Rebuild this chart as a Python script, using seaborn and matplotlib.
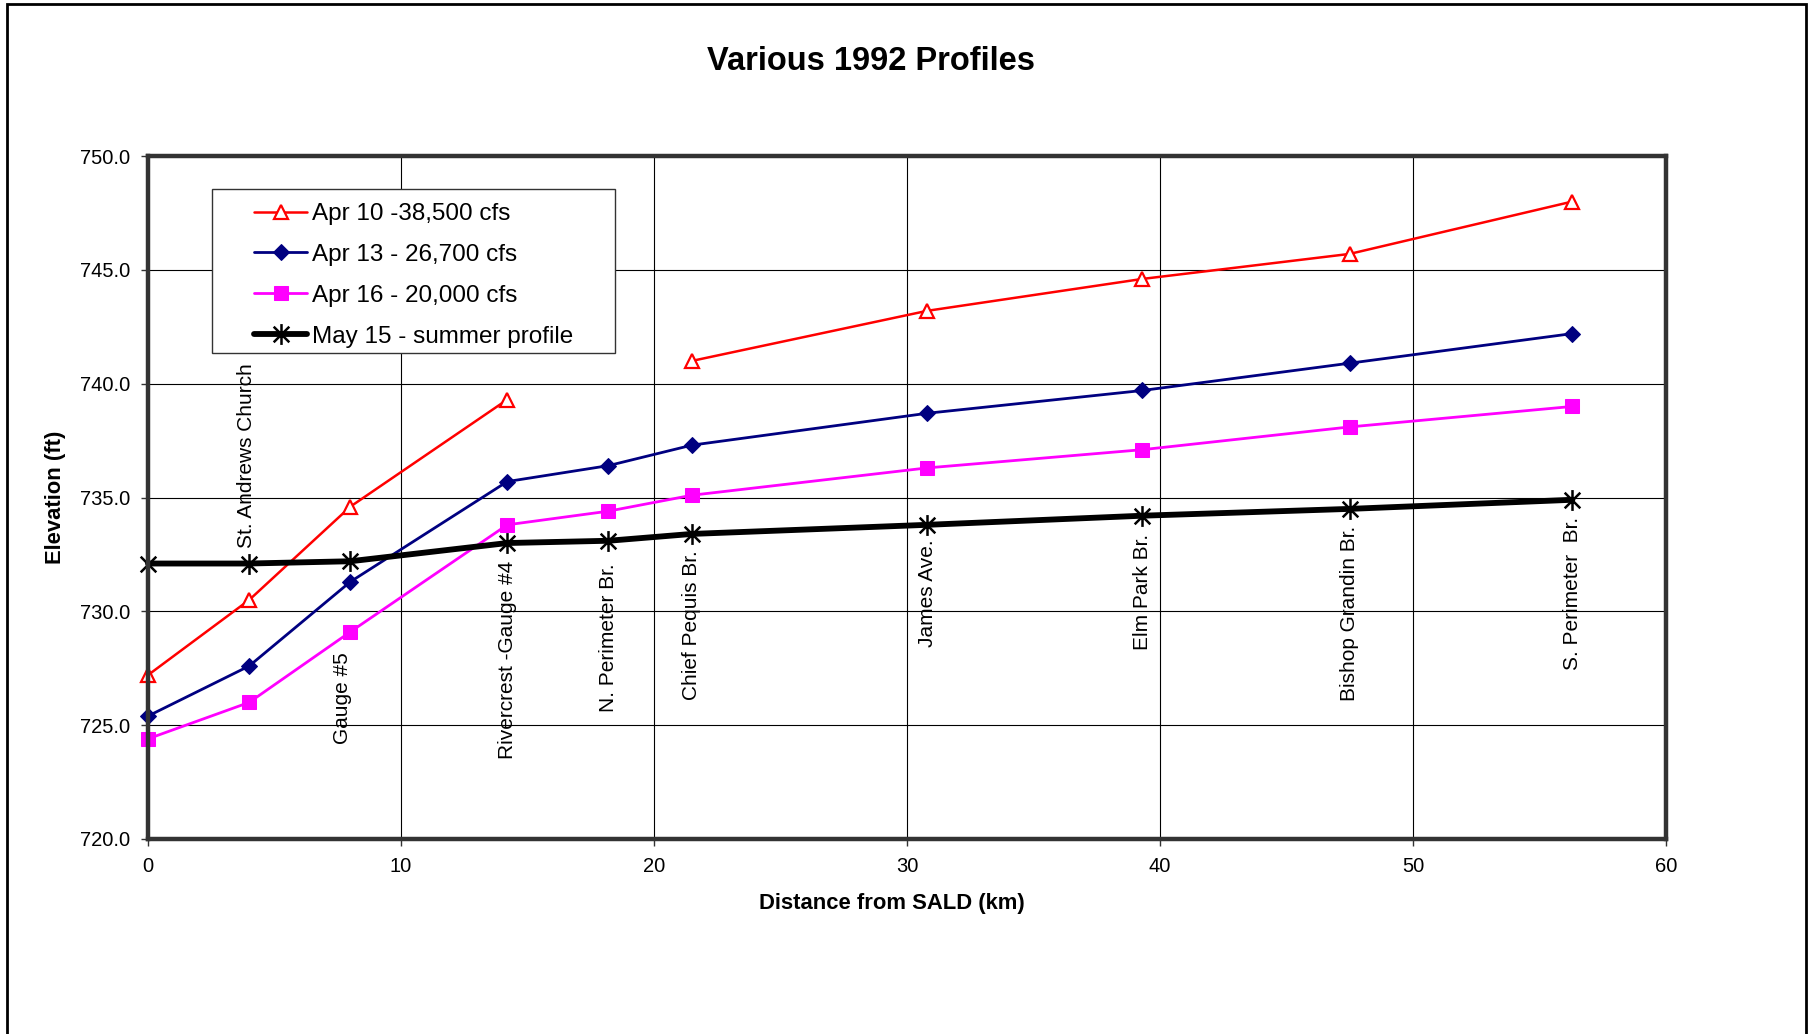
import numpy as np
import pandas as pd
import matplotlib
matplotlib.use("Agg")
import matplotlib.pyplot as plt
from matplotlib.path import Path
from matplotlib.patches import Rectangle
import seaborn as sns

# --------------------------------------------------
# data
# --------------------------------------------------
distance_km = [0.0, 4.0, 8.0, 14.2, 18.2, 21.5, 30.8, 39.3, 47.5, 56.3]

apr10 = [727.2, 730.5, 734.6, 739.3, np.nan, 741.0, 743.2, 744.6, 745.7, 748.0]
apr13 = [725.4, 727.6, 731.3, 735.7, 736.4, 737.3, 738.7, 739.7, 740.9, 742.2]
apr16 = [724.4, 726.0, 729.1, 733.8, 734.4, 735.1, 736.3, 737.1, 738.1, 739.0]
may15 = [732.1, 732.1, 732.2, 733.0, 733.1, 733.4, 733.8, 734.2, 734.5, 734.9]

series_names = ["Apr 10 -38,500 cfs", "Apr 13 - 26,700 cfs",
                "Apr 16 - 20,000 cfs", "May 15 - summer profile"]

station_names = ["St. Andrews Church", "Gauge #5", "Rivercrest -Gauge #4",
                 "N. Perimeter Br.", "Chief Pequis Br.", "James Ave.",
                 "Elm Park Br.", "Bishop Grandin Br.", "S. Perimeter  Br."]

# where the rotated station labels end (top of text), in ft
label_top = [740.9, 728.2, 732.2, 732.1, 732.7, 733.15, 733.4, 733.75, 734.15]
label_dx = [-0.1, -0.3, 0, 0, 0, 0, 0, 0, 0]

# --------------------------------------------------
# style
# --------------------------------------------------
sns.set_style("white")
plt.rcParams["font.family"] = ["Liberation Sans", "DejaVu Sans"]
plt.rcParams["text.color"] = "black"
plt.rcParams["axes.labelcolor"] = "black"
plt.rcParams["xtick.color"] = "black"
plt.rcParams["ytick.color"] = "black"

fig = plt.figure(figsize=(18.11, 10.34), dpi=100)
ax = fig.add_axes([148 / 1811, 195 / 1034, 1518 / 1811, 683 / 1034])

# asterisk marker (x with a vertical bar)
star = Path([(0, -1), (0, 1), (-0.75, -0.75), (0.75, 0.75), (-0.75, 0.75), (0.75, -0.75)],
            [Path.MOVETO, Path.LINETO, Path.MOVETO, Path.LINETO, Path.MOVETO, Path.LINETO])

# red line has a gap at N. Perimeter, so split it into pieces
seg = np.cumsum(np.isnan(apr10))
df10 = pd.DataFrame({"x": distance_km, "y": apr10, "seg": seg}).dropna()

sns.lineplot(data=df10, x="x", y="y", units="seg", estimator=None, ax=ax,
             color="#FF0000", lw=1.8, marker="^", markersize=10, clip_on=False,
             mfc="white", mec="#FF0000", mew=1.6, label=series_names[0])
sns.lineplot(x=distance_km, y=apr13, ax=ax, color="#000080", lw=2.0, clip_on=False,
             marker="D", markersize=8, mec="#000080", label=series_names[1])
sns.lineplot(x=distance_km, y=apr16, ax=ax, color="#FF00FF", lw=2.0, clip_on=False,
             marker="s", markersize=10, mec="#FF00FF", label=series_names[2])
sns.lineplot(x=distance_km, y=may15, ax=ax, color="black", lw=4.2, clip_on=False,
             marker=star, markersize=15, mec="black", mew=1.8, label=series_names[3])

# --------------------------------------------------
# axes
# --------------------------------------------------
ax.set_xlim(0, 60)
ax.set_ylim(720, 750)
ax.set_xticks(range(0, 61, 10))
ax.set_yticks(np.arange(720, 751, 5))
ax.set_yticklabels([f"{v:.1f}" for v in np.arange(720, 751, 5)])
ax.tick_params(axis="both", labelsize=14.5, direction="out", length=5,
               width=1, color="#333333", left=True, bottom=True, pad=8)
ax.grid(True, color="black", lw=0.8)
for s in ax.spines.values():
    s.set_color("#333333")
    s.set_linewidth(3.2)
ax.set_xlabel("")
ax.set_ylabel("")

for name, x, top, dx in zip(station_names, distance_km[1:], label_top, label_dx):
    ax.text(x + dx, top, name, rotation=90, ha="center", va="top", fontsize=15)

fig.text(871 / 1811, 1 - 61 / 1034, "Various 1992 Profiles", ha="center",
         va="center", fontsize=23.5, fontweight="bold")
fig.text(892 / 1811, 1 - 904 / 1034, "Distance from SALD (km)", ha="center",
         va="center", fontsize=15.8, fontweight="bold")
fig.text(55 / 1811, 1 - 497 / 1034, "Elevation (ft)", ha="center",
         va="center", rotation=90, fontsize=15.8, fontweight="bold")

# legend: one entry per series, white frame drawn separately under it
handles, labels = ax.get_legend_handles_labels()
uniq = dict(zip(labels, handles))
leg = ax.legend([uniq[n] for n in series_names], series_names, frameon=False,
                loc="upper left", bbox_to_anchor=(237 / 1811, 1 - 186 / 1034),
                bbox_transform=fig.transFigure, fontsize=17.5, handlelength=2.2,
                handletextpad=0.2, labelspacing=0.78, borderpad=0.2)
leg.set_zorder(6)
ax.add_patch(Rectangle((212 / 1811, 1 - 353 / 1034), 403 / 1811, 164 / 1034,
                       transform=fig.transFigure, fill=True, fc="white",
                       ec="#333333", lw=1, zorder=4))

# outer chart border (left, top, right)
fig.add_artist(Rectangle((7 / 1811, -0.05), 1799 / 1811, 1.05 - 4 / 1034,
                         transform=fig.transFigure, fill=False, ec="black",
                         lw=2, clip_on=False))

fig.savefig("out.png", dpi=100)
